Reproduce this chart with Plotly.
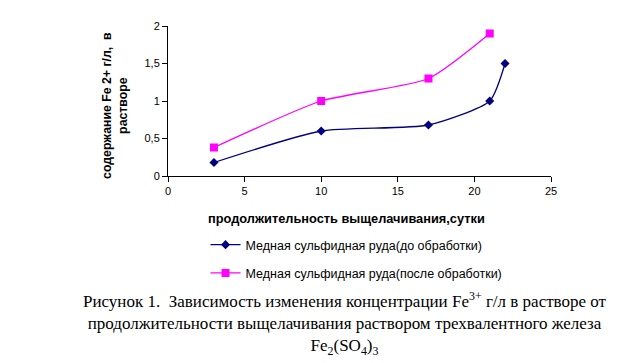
import plotly.graph_objects as go

days_before = [3, 10, 17, 21, 22]
fe_before = [0.18, 0.60, 0.68, 1.00, 1.50]
days_after = [3, 10, 17, 21]
fe_after = [0.38, 1.00, 1.30, 1.90]

name_before = "Медная сульфидная руда(до обработки)"
name_after = "Медная сульфидная руда(после обработки)"
x_title = "продолжительность выщелачивания,сутки"
y_title = "содержание Fe 2+ г/л,  в<br>растворе"
caption = ("Рисунок 1.  Зависимость изменения концентрации Fe<sup>3+</sup> г/л в растворе от<br>"
           "продолжительности выщелачивания раствором трехвалентного железа<br>"
           "Fe<sub>2</sub>(SO<sub>4</sub>)<sub>3</sub>")

x_ticks = [0, 5, 10, 15, 20, 25]
y_ticks = [0, 0.5, 1, 1.5, 2]
y_tick_text = ["0", "0,5", "1", "1,5", "2"]

fig = go.Figure()
fig.add_trace(go.Scatter(x=days_before, y=fe_before, name=name_before, mode="lines+markers",
                         legendgroup="a",
                         line=dict(color="#000080", width=1.3, shape="spline", smoothing=0.6),
                         marker=dict(symbol="diamond", size=7, color="#000080")))
fig.add_trace(go.Scatter(x=days_after, y=fe_after, name=name_after, mode="lines+markers",
                         legendgroup="b",
                         line=dict(color="#FF00FF", width=1.3, shape="spline", smoothing=0.6),
                         marker=dict(symbol="square", size=8, color="#FF00FF")))

font = "Arial, Liberation Sans, sans-serif"
fig.update_layout(
    width=644, height=363,
    margin=dict(l=160, r=101, t=16, b=195),
    paper_bgcolor="white", plot_bgcolor="white",
    font=dict(family=font, size=11, color="black"),
    showlegend=True,
    legend=dict(x=0.098, y=-0.36, xanchor="left", yanchor="top", bgcolor="rgba(0,0,0,0)",
                font=dict(family=font, size=12.5, color="black"), tracegroupgap=9,
                itemwidth=30),
    xaxis=dict(range=[0, 25], tickvals=x_ticks, showgrid=False, zeroline=False,
               showline=True, linecolor="black", linewidth=1, ticks="outside",
               ticklen=5, tickcolor="black"),
    yaxis=dict(range=[0, 2], tickvals=y_ticks, ticktext=y_tick_text, showgrid=False,
               zeroline=False, showline=True, linecolor="black", linewidth=1,
               ticks="outside", ticklen=5, tickcolor="black"),
)
fig.add_annotation(text="<b>" + x_title + "</b>", xref="paper", yref="paper",
                   x=0.467, y=-0.283, xanchor="center", yanchor="middle", showarrow=False,
                   font=dict(family=font, size=12.8, color="black"))
fig.add_annotation(text="<b>" + y_title + "</b>", xref="paper", yref="paper",
                   x=-0.14, y=0.47, xanchor="center", yanchor="middle", showarrow=False,
                   textangle=-90, font=dict(family=font, size=12.3, color="black"))
fig.add_annotation(text=caption, xref="paper", yref="paper",
                   x=0.461, y=-0.98, xanchor="center", yanchor="middle", showarrow=False,
                   align="center",
                   font=dict(family="Times New Roman, Liberation Serif, serif", size=17,
                             color="black"))

fig.write_html("out.html")
